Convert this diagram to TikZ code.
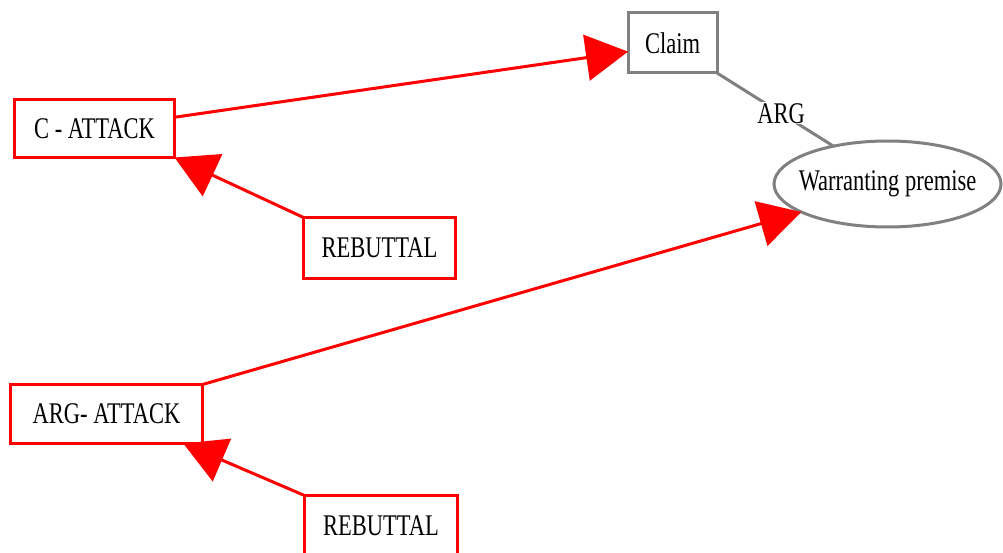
\documentclass[tikz,border=0pt]{standalone}
\usepackage{fontspec}
\setmainfont{Liberation Serif}[FakeStretch=0.75]
\usetikzlibrary{arrows.meta,shapes.geometric}
\definecolor{edgegray}{HTML}{808080}
\definecolor{attackred}{HTML}{FF0000}
\tikzset{
  lbl/.style={font=\fontsize{30}{33}\selectfont, text=black},
  redbox/.style={lbl, draw=attackred, line width=3pt, rectangle, inner sep=0pt, outer sep=0pt},
  graybox/.style={lbl, draw=edgegray, line width=3pt, rectangle, inner sep=0pt, outer sep=0pt},
  grayoval/.style={lbl, draw=edgegray, line width=3pt, ellipse, inner xsep=-10pt, inner ysep=0pt, outer sep=0pt},
  attack/.style={draw=attackred, line width=3pt, -{Triangle[length=42pt,width=46pt]}},
  argedge/.style={draw=edgegray, line width=3pt},
}
\begin{document}
\begin{tikzpicture}[x=1pt,y=-1pt]
  \fill[white] (0,0) rectangle (1003,553);
  \useasboundingbox (0,0) rectangle (1003,553);

  % nodes
  \node[graybox, minimum width=89pt, minimum height=60pt] (claim) at (672.5,43) {Claim};
  \node[grayoval, minimum width=227pt, minimum height=86pt] (warrant) at (887.5,184) {Warranting premise};
  \node[redbox, minimum width=160pt, minimum height=58pt] (cattack) at (94.5,128.5) {C - ATTACK};
  \node[redbox, minimum width=152pt, minimum height=61pt] (reb1) at (379.5,248) {REBUTTAL};
  \node[redbox, minimum width=192pt, minimum height=59pt] (argattack) at (106.5,414) {ARG- ATTACK};
  \node[redbox, minimum width=153pt, minimum height=61pt] (reb2) at (381,526) {REBUTTAL};

  % connectors
  \draw[attack] (cattack.8) -- (claim.191);
  \draw[attack] (reb1.north west) -- (cattack.south east);
  \draw[attack] (argattack.north east) -- (warrant.198);
  \draw[attack] (reb2.north west) -- (argattack.-21);
  \draw[argedge] (claim.south east) -- node[lbl, pos=0.55, fill=white, inner sep=1pt] (arglabel) {ARG} (warrant.145);
\end{tikzpicture}
\end{document}
